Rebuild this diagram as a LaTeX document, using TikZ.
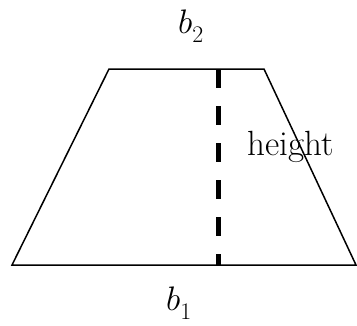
\RequirePackage{fix-cm}
\documentclass[tikz,border=0pt]{standalone}
\newcommand{\lowsub}[1]{_{\raisebox{-4pt}{$\scriptstyle #1$}}}
\begin{document}
\begin{tikzpicture}[x=1pt,y=-1pt,
  edge/.style={line width=1.5pt,line join=miter},
  heightline/.style={line width=5pt,dash pattern=on 19pt off 18pt},
  lbl/.style={inner sep=0pt,font=\fontsize{34}{38}\selectfont},
  hlbl/.style={inner sep=0pt,font=\fontsize{35}{38}\selectfont}]
\useasboundingbox (0,0) rectangle (357,325);
\coordinate (bl) at (12,265);
\coordinate (br) at (356,265);
\coordinate (tr) at (264,69);
\coordinate (tl) at (109,69);
\coordinate (ht) at (218,69);
\coordinate (hb) at (218,265);
\draw[edge] (bl) -- (br) -- (tr) -- (tl) -- cycle;
\draw[heightline] (ht) -- (hb);
\node[lbl,anchor=base west] (b2) at (178,33) {$b\lowsub{2}$};
\node[lbl,anchor=base west] (b1) at (166,310) {$b\lowsub{1}$};
\node[hlbl,anchor=base west] (h) at (247,155) {height};
\end{tikzpicture}
\end{document}
